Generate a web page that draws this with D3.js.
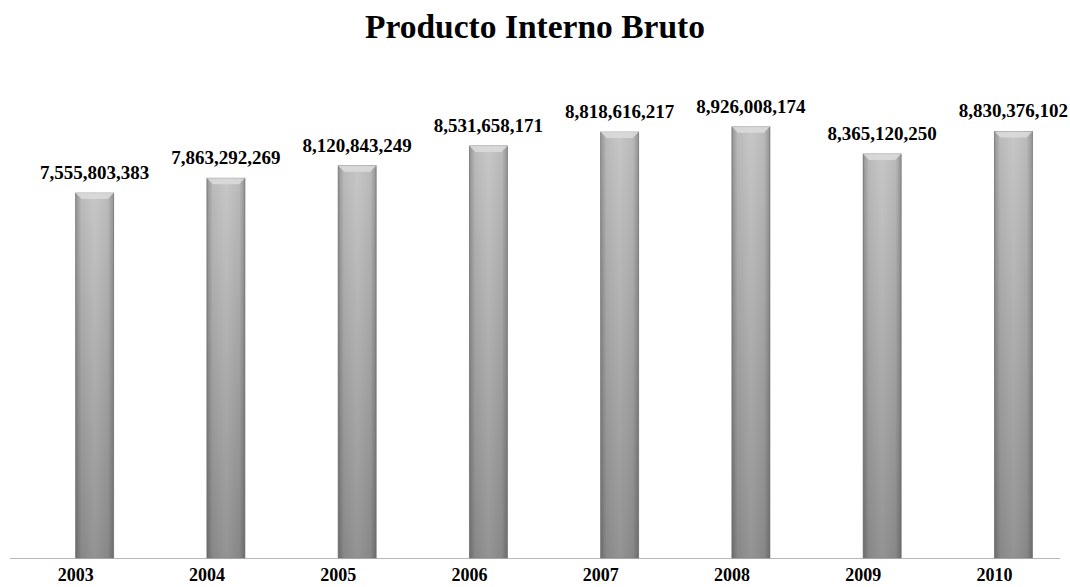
<!DOCTYPE html>
<html>
<head>
<meta charset="utf-8">
<script src="https://cdn.jsdelivr.net/npm/d3@7"></script>
<style>
  body { margin: 0; background: #fff; }
  svg text { font-family: "Liberation Serif", "Times New Roman", serif; font-weight: bold; fill: #000; }
</style>
</head>
<body>
<div id="chart"></div>
<script>
// data
var years = ["2003", "2004", "2005", "2006", "2007", "2008", "2009", "2010"];
var pib = [7555803383, 7863292269, 8120843249, 8531658171, 8818616217, 8926008174, 8365120250, 8830376102];
var title = "Producto Interno Bruto";

var width = 1070, height = 587;
var margin = {top: 75, right: 10, bottom: 29, left: 10};
var baseY = height - margin.bottom;

var svg = d3.select("#chart").append("svg")
    .attr("width", width)
    .attr("height", height);

// gradients for the bars
var defs = svg.append("defs");
var gv = defs.append("linearGradient").attr("id", "gv")
    .attr("x1", 0).attr("y1", 0).attr("x2", 0).attr("y2", 1);
gv.append("stop").attr("offset", "0%").attr("stop-color", "#c4c4c4");
gv.append("stop").attr("offset", "100%").attr("stop-color", "#8e8e8e");

var gh = defs.append("linearGradient").attr("id", "gh")
    .attr("x1", 0).attr("y1", 0).attr("x2", 1).attr("y2", 0);
gh.append("stop").attr("offset", "0%").attr("stop-color", "#000").attr("stop-opacity", 0.25);
gh.append("stop").attr("offset", "15%").attr("stop-color", "#000").attr("stop-opacity", 0.05);
gh.append("stop").attr("offset", "50%").attr("stop-color", "#fff").attr("stop-opacity", 0.05);
gh.append("stop").attr("offset", "85%").attr("stop-color", "#000").attr("stop-opacity", 0.05);
gh.append("stop").attr("offset", "100%").attr("stop-color", "#000").attr("stop-opacity", 0.25);

// scales
var x = d3.scaleBand()
    .domain(years)
    .range([margin.left, width - margin.right]);

var y = d3.scaleLinear()
    .domain([0, 10000000000])
    .range([baseY, margin.top]);

var barW = x.bandwidth() * 0.29;

// title
svg.append("text")
    .attr("x", width / 2)
    .attr("y", 38)
    .attr("text-anchor", "middle")
    .style("font-size", "33.5px")
    .text(title);

// axis line
svg.append("line")
    .attr("x1", margin.left)
    .attr("x2", width - margin.right)
    .attr("y1", baseY + 0.5)
    .attr("y2", baseY + 0.5)
    .attr("stroke", "#b8b8b8")
    .attr("stroke-width", 1);

var bars = svg.selectAll(".bar")
    .data(pib)
    .enter().append("g")
    .attr("class", "bar");

function bx(d, i) { return x(years[i]) + x.bandwidth() / 2; }

bars.append("rect")
    .attr("x", bx)
    .attr("y", function(d) { return y(d); })
    .attr("width", barW)
    .attr("height", function(d) { return baseY - y(d); })
    .attr("fill", "url(#gv)")
    .attr("stroke", "#8a8a8a")
    .attr("stroke-width", 0.8);

bars.append("rect")
    .attr("x", bx)
    .attr("y", function(d) { return y(d); })
    .attr("width", barW)
    .attr("height", function(d) { return baseY - y(d); })
    .attr("fill", "url(#gh)");

// bevel at the top of each bar
bars.append("path")
    .attr("d", function(d, i) {
        var x0 = bx(d, i), y0 = y(d), b = 6;
        return "M" + x0 + "," + y0 + "L" + (x0 + barW) + "," + y0 +
            "L" + (x0 + barW - b) + "," + (y0 + b) + "L" + (x0 + b) + "," + (y0 + b) + "Z";
    })
    .attr("fill", "#dcdcdc")
    .attr("opacity", 0.85);

// value labels
bars.append("text")
    .attr("x", function(d, i) { return bx(d, i) + barW / 2; })
    .attr("y", function(d) { return y(d) - 14; })
    .attr("text-anchor", "middle")
    .style("font-size", "19px")
    .text(function(d) { return d3.format(",")(d); });

// year labels
svg.selectAll(".year")
    .data(years)
    .enter().append("text")
    .attr("class", "year")
    .attr("x", function(d) { return x(d) + x.bandwidth() / 2; })
    .attr("y", 581)
    .attr("text-anchor", "middle")
    .style("font-size", "18px")
    .text(function(d) { return d; });
</script>
</body>
</html>
